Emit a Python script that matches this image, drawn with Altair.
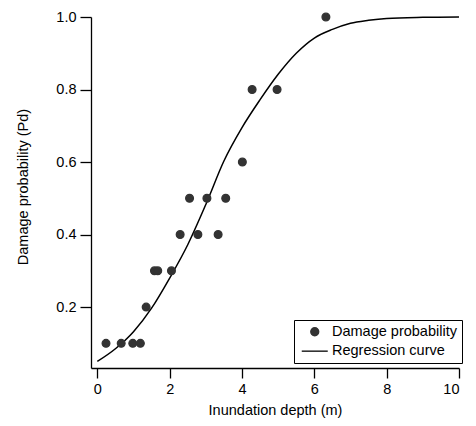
import altair as alt
import pandas as pd

# Observed damage probabilities
depth = [0.24, 0.66, 0.98, 1.19, 1.35, 1.58, 1.67, 2.05, 2.29, 2.55, 2.78, 3.03, 3.34, 3.55, 4.01, 4.28, 4.97, 6.32]
prob = [0.1, 0.1, 0.1, 0.1, 0.2, 0.3, 0.3, 0.3, 0.4, 0.5, 0.4, 0.5, 0.4, 0.5, 0.6, 0.8, 0.8, 1.0]

# Regression curve
curve_x = [0.0, 0.5, 1.0, 1.5, 2.0, 2.5, 3.0, 3.5, 4.0, 4.5, 5.0, 5.5, 6.0, 6.5, 7.0, 7.5, 8.0, 9.0, 10.0]
curve_y = [0.050, 0.085, 0.132, 0.197, 0.280, 0.372, 0.483, 0.603, 0.695, 0.772, 0.842, 0.900, 0.942, 0.966, 0.983, 0.991, 0.996, 0.999, 1.0]

series_names = ["Damage probability", "Regression curve"]
x_ticks = [0, 2, 4, 6, 8, 10]
y_ticks = [0.2, 0.4, 0.6, 0.8, 1.0]

pts = pd.DataFrame({"x": depth, "y": prob, "series": series_names[0]})
crv = pd.DataFrame({"x": curve_x, "y": curve_y})

FONT = "Liberation Sans"
xscale = alt.Scale(domain=[-0.175, 10], nice=False, zero=False)
yscale = alt.Scale(domain=[0.032, 1.0], nice=False, zero=False)

xaxis = alt.Axis(values=x_ticks, format="d", title="Inundation depth (m)", grid=False,
                 tickSize=10, labelPadding=4, titlePadding=8)
yaxis = alt.Axis(values=y_ticks, format=".1f", title="Damage probability (Pd)", grid=False,
                 tickSize=11, labelPadding=4, titleX=-61, titleY=169.5)

legend = alt.Legend(title=None, orient="none", legendX=203, legendY=303,
                    strokeColor="black", padding=4.5, rowPadding=4.4,
                    labelFontSize=14.5, labelFont=FONT, labelColor="black",
                    symbolOffset=9, labelOffset=10, symbolSize=64,
                    symbolStrokeWidth=1.3, symbolFillColor="#333333", fillColor="white")

line = alt.Chart(crv).mark_line(color="black", strokeWidth=1.5, interpolate="monotone").encode(
    x=alt.X("x:Q", scale=xscale, axis=xaxis),
    y=alt.Y("y:Q", scale=yscale, axis=yaxis),
)

points = alt.Chart(pts).mark_point(filled=True, fill="#333333", opacity=1, size=60, strokeWidth=1.3).encode(
    x=alt.X("x:Q", scale=xscale, axis=xaxis),
    y=alt.Y("y:Q", scale=yscale, axis=yaxis),
    shape=alt.Shape("series:N",
                    scale=alt.Scale(domain=series_names, range=["circle", "M-3.25,0L3.25,0"]),
                    legend=legend),
    stroke=alt.Stroke("series:N",
                      scale=alt.Scale(domain=series_names, range=["#333333", "black"]),
                      legend=legend),
)

chart = alt.layer(line, points).properties(
    width=368, height=351,
    autosize=alt.AutoSizeParams(type="none"),
    padding={"left": 83, "top": 9, "right": 9, "bottom": 50},
).configure_view(stroke=None).configure_axis(
    domainColor="black", tickColor="black", domainWidth=1.3, tickWidth=1.3,
    labelFont=FONT, titleFont=FONT, labelFontSize=14.5, titleFontSize=14.5,
    labelColor="black", titleColor="black", titleFontWeight="normal",
)

chart.save("out.html", embed_options={"renderer": "svg", "actions": False})
